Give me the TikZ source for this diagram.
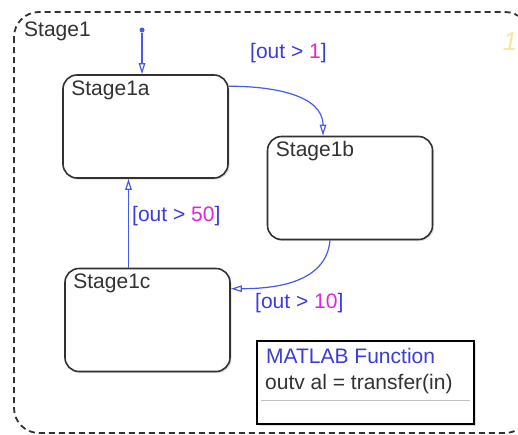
\documentclass[tikz,border=0pt]{standalone}
\usepackage{fontspec}
\setmainfont{Liberation Sans}
\usetikzlibrary{arrows.meta,shadows}

\definecolor{trblue}{RGB}{70,90,235}
\definecolor{txtblue}{RGB}{60,60,215}
\definecolor{trmag}{RGB}{220,40,220}
\definecolor{edgegray}{RGB}{50,50,50}
\definecolor{ordyellow}{RGB}{255,228,160}

\newcommand{\guard}[1]{\textcolor{txtblue}{[out >~}\textcolor{trmag}{#1}\textcolor{txtblue}{]}}

\begin{document}
\begin{tikzpicture}[x=1pt,y=-1pt,
  font=\fontsize{21}{25}\selectfont,
  state/.style={draw=edgegray, line width=1.6pt, rounded corners=14pt, fill=white,
    minimum width=165pt, minimum height=103pt, inner sep=0pt,
    drop shadow={shadow xshift=1.5pt, shadow yshift=-1.5pt, opacity=0.25}},
  statename/.style={anchor=base west, xshift=9pt, yshift=-21pt, inner sep=0pt, text=edgegray},
  trans/.style={draw=trblue, line width=1.2pt, -{Triangle[open, length=11pt, width=6.5pt]}},
  guardtext/.style={inner sep=0pt}]
\useasboundingbox (0,0) rectangle (518,434);
\fill[white] (0,0) rectangle (518,434);
\begin{scope}
\clip (0,0) rectangle (518,434);
\draw[edgegray, line width=1.8pt, dash pattern=on 6pt off 4pt, rounded corners=25pt] (14,12) rectangle (530,433);
\end{scope}
\node[anchor=base west, inner sep=0pt, text=edgegray] (stage1) at (24,36) {Stage1};
\node[anchor=base, inner sep=0pt, text=ordyellow, font=\fontsize{26}{30}\selectfont\itshape] (order) at (510,50) {1};

\node[state, label={[statename]north west:Stage1a}] (s1a) at (145.5,126.5) {};
\node[state, label={[statename]north west:Stage1b}] (s1b) at (350,188) {};
\node[state, label={[statename]north west:Stage1c}] (s1c) at (147.5,320) {};

\node[circle, fill=trblue, inner sep=0pt, minimum size=5pt] (init) at (142,30) {};
\draw[trans] (init) -- (init |- s1a.north);

\draw[trans] ([yshift=-12pt]s1a.north east) to[out=0, in=90] ([xshift=-27pt]s1b.north);
\draw[trans] ([xshift=-20pt]s1b.south) to[out=-95, in=0] ([yshift=-21pt]s1c.north east);
\draw[trans] ([xshift=-19pt]s1c.north) -- ([xshift=-17pt]s1a.south);

\node[guardtext, anchor=base west] (g1) at (250,58) {\guard{1}};
\node[guardtext, anchor=base west] (g10) at (255,308) {\guard{10}};
\node[guardtext, anchor=base west] (g50) at (132,221) {\guard{50}};

\node[draw=black, line width=1.4pt, fill=white, minimum width=217pt, minimum height=83pt, inner sep=0pt,
  drop shadow={shadow xshift=2pt, shadow yshift=-2pt, opacity=0.25}] (fcn) at (365.5,382.5) {};
\draw[gray!50, line width=0.8pt] ([xshift=5pt,yshift=24pt]fcn.south west) -- ([xshift=-5pt,yshift=24pt]fcn.south east);
\node[anchor=base west, inner sep=0pt, text=txtblue] (fcnhead) at (266,363) {MATLAB Function};
\node[anchor=base west, inner sep=0pt, text=edgegray] (fcnsig) at (265,389) {outv al = transfer(in)};
\end{tikzpicture}
\end{document}
